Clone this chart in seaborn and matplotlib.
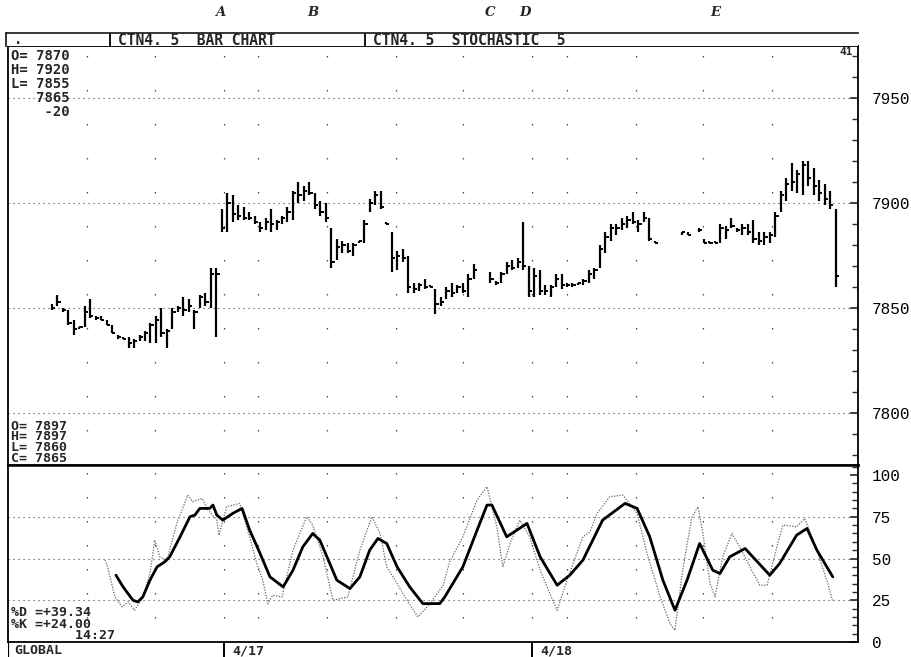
"""Recreate the CTN4.5 bar chart + stochastic terminal screen."""
import numpy as np
import matplotlib
matplotlib.use('Agg')
import matplotlib.pyplot as plt
import matplotlib.transforms as mtransforms
from matplotlib.ticker import MultipleLocator, FixedLocator
import seaborn as sns

nan = np.nan

# price bars (one per bar index)
highs = [7852, 7856, 7850, 7849, 7844, 7841, 7851, 7854, 7846, 7846,
         7844, 7842, 7837, 7836, 7836, 7835, 7837, 7839, 7843, 7846,
         7850, 7840, 7850, 7851, 7855, 7854, 7849, 7856, 7857, 7869,
         7869, 7897, 7905, 7904, 7899, 7898, 7896, 7894, 7891, 7893,
         7897, 7892, 7894, 7898, 7906, 7910, 7908, 7910, 7905, 7901,
         7900, 7888, 7883, 7882, 7881, 7881, 7882, 7892, 7902, 7906,
         7906, 7891, 7886, 7877, 7878, 7875, 7862, 7862, 7864, 7861,
         7859, 7855, 7860, 7862, 7861, 7862, 7866, 7871, nan, nan,
         7867, 7863, 7867, 7872, 7873, 7874, 7891, 7870, 7869, 7868,
         7861, 7861, 7866, 7866, 7862, 7862, 7862, 7864, 7868, 7869,
         7880, 7886, 7890, 7890, 7893, 7894, 7896, 7892, 7896, 7893,
         7882, nan, nan, nan, nan, 7886, 7886, nan, 7888, 7883,
         7882, 7882, 7890, 7889, 7893, 7888, 7890, 7890, 7892, 7886,
         7886, 7886, 7896, 7906, 7912, 7919, 7916, 7920, 7920, 7917,
         7911, 7909, 7906, 7897]
lows = [7849, 7851, 7848, 7842, 7837, 7840, 7841, 7845, 7844, 7844,
        7842, 7838, 7835, 7835, 7831, 7831, 7834, 7834, 7833, 7833,
        7836, 7831, 7840, 7848, 7846, 7848, 7840, 7850, 7851, 7850,
        7836, 7886, 7886, 7891, 7892, 7892, 7892, 7890, 7886, 7887,
        7886, 7887, 7890, 7891, 7892, 7900, 7901, 7904, 7897, 7894,
        7891, 7869, 7873, 7876, 7876, 7875, 7881, 7881, 7896, 7899,
        7897, 7890, 7867, 7868, 7872, 7857, 7857, 7858, 7859, 7860,
        7847, 7851, 7854, 7855, 7857, 7857, 7855, 7864, nan, nan,
        7862, 7861, 7862, 7866, 7868, 7869, 7868, 7855, 7855, 7856,
        7856, 7855, 7860, 7859, 7860, 7860, 7861, 7861, 7862, 7864,
        7869, 7876, 7882, 7885, 7887, 7888, 7890, 7886, 7891, 7882,
        7881, nan, nan, nan, nan, 7885, 7885, nan, 7886, 7881,
        7881, 7881, 7881, 7883, 7888, 7886, 7885, 7885, 7881, 7880,
        7880, 7881, 7884, 7896, 7901, 7906, 7905, 7904, 7908, 7904,
        7901, 7899, 7897, 7860]
closes = [7850, 7853, 7849, 7843, 7840, 7841, 7848, 7846, 7845, 7844,
          7842, 7838, 7836, 7835, 7833, 7834, 7836, 7838, 7842, 7844,
          7838, 7839, 7848, 7850, 7849, 7851, 7848, 7855, 7853, 7866,
          7866, 7888, 7900, 7895, 7894, 7893, 7893, 7891, 7888, 7891,
          7890, 7891, 7893, 7896, 7905, 7904, 7906, 7905, 7899, 7896,
          7893, 7872, 7879, 7880, 7877, 7880, 7882, 7890, 7900, 7904,
          7898, 7890, 7874, 7875, 7874, 7860, 7859, 7861, 7860, 7860,
          7852, 7853, 7858, 7857, 7860, 7858, 7864, 7868, nan, nan,
          7864, 7862, 7866, 7870, 7869, 7872, 7870, 7858, 7865, 7858,
          7858, 7860, 7864, 7861, 7861, 7861, 7862, 7863, 7866, 7868,
          7878, 7884, 7888, 7888, 7890, 7892, 7891, 7890, 7893, 7883,
          7881, nan, nan, nan, nan, 7886, 7885, nan, 7887, 7881,
          7881, 7881, 7888, 7887, 7889, 7887, 7888, 7886, 7883, 7882,
          7884, 7885, 7894, 7904, 7909, 7910, 7914, 7918, 7912, 7908,
          7905, 7902, 7899, 7865]

# stochastic %D (heavy) and %K (dotted), positions in bar units
d_bar = [11.7, 13.0, 14.8, 15.7, 16.6, 17.9, 19.2, 20.6, 21.5, 23.4,
         25.2, 26.1, 27.0, 28.8, 29.4, 30.1, 31.2, 33.0, 34.7, 36.1,
         38.0, 39.8, 42.2, 44.0, 45.8, 47.6, 48.9, 50.2, 52.0, 54.4,
         56.2, 58.0, 59.5, 61.1, 63.0, 65.3, 67.7, 70.8, 71.7, 75.0,
         77.6, 79.4, 80.3, 83.0, 86.7, 89.1, 92.2, 94.5, 96.9, 100.5,
         104.6, 106.8, 109.1, 111.5, 113.7, 115.9, 118.2, 120.6, 121.9, 123.7,
         126.5, 127.9, 131.0, 132.8, 135.9, 137.8, 139.6, 142.5]
d_val = [40, 33, 25, 24, 27, 37, 45, 48, 51, 63,
         75, 76, 80, 80, 82, 76, 73, 77, 80, 67,
         53, 39, 33, 43, 57, 65, 61, 51, 37, 32,
         39, 55, 62, 59, 45, 33, 23, 23, 27, 45,
         67, 82, 82, 63, 71, 51, 34, 40, 49, 73,
         83, 80, 63, 37, 19, 37, 59, 43, 41, 51,
         56, 51, 40, 47, 64, 68, 55, 39]
k_bar = [9.7, 10.2, 11.5, 12.8, 13.9, 15.1, 16.6, 17.9, 18.8, 19.7,
         21.0, 22.8, 24.8, 25.7, 27.4, 28.5, 30.1, 30.5, 31.9, 34.3,
         36.1, 37.4, 38.5, 39.4, 40.3, 42.0, 44.0, 46.5, 47.6, 49.5,
         51.3, 54.0, 56.2, 58.4, 59.9, 61.1, 63.0, 64.8, 66.8, 69.0,
         71.4, 72.6, 75.0, 77.6, 79.4, 81.2, 82.3, 83.6, 85.4, 87.2,
         89.1, 91.4, 92.2, 94.0, 96.9, 98.2, 99.5, 101.8, 104.2, 106.8,
         108.6, 111.0, 112.8, 113.7, 115.1, 116.8, 117.9, 118.8, 120.1, 121.0,
         122.4, 124.1, 125.5, 127.7, 129.2, 130.5, 132.3, 133.4, 135.9, 137.4,
         139.6, 141.6, 142.5]
k_val = [49, 45, 27, 21, 24, 19, 27, 41, 61, 51,
         49, 71, 88, 84, 86, 79, 73, 64, 81, 83,
         63, 47, 37, 23, 28, 27, 55, 75, 70, 51,
         25, 27, 55, 75, 65, 45, 35, 25, 15, 23,
         34, 48, 63, 85, 93, 69, 45, 59, 73, 63,
         43, 25, 19, 37, 63, 66, 77, 87, 88, 77,
         53, 27, 11, 7, 43, 75, 81, 65, 35, 27,
         51, 65, 57, 43, 34, 34, 57, 70, 69, 74,
         55, 35, 24]

hour_marks = [6.4, 18.8, 31.4, 37.6, 50.2, 62.8, 75.0, 87.6, 94.0, 106.6, 118.8, 131.4]
day_marks = [31.4, 87.6]
day_labels = ['4/17', '4/18']
price_ticks = [7800, 7850, 7900, 7950]
stoch_ticks = [0, 25, 50, 75, 100]
letter_labels = ['A', 'B', 'C', 'D', 'E']
letter_bars = [30.7, 47.6, 79.9, 86.3, 121.0]

day_info = ['O= 7870', 'H= 7920', 'L= 7855', '   7865', '    -20']
bar_info = ['O= 7897', 'H= 7897', 'L= 7860', 'C= 7865']
stoch_info = ['%D =+39.34', '%K =+24.00', '        14:27']

sns.set_style('white')
plt.rcParams['font.family'] = ['DejaVu Sans Mono', 'DejaVu Sans']
plt.rcParams['font.weight'] = 'bold'

W, H = 912, 657
fig = plt.figure(figsize=(W / 100, H / 100), dpi=100)


def fx(px):
    return px / W


def fy(py):
    return 1 - py / H


LEFT, RIGHT, TOP, MID, BOT = 8, 858, 46, 465, 642
XLIM = (-8.0, 147.1)
dot = '#444444'

ax_p = fig.add_axes([fx(LEFT), fy(MID), fx(RIGHT) - fx(LEFT), fy(TOP) - fy(MID)])
ax_s = fig.add_axes([fx(LEFT), fy(BOT), fx(RIGHT) - fx(LEFT), fy(MID) - fy(BOT)])
ax_b = fig.add_axes([fx(LEFT), 0, fx(RIGHT) - fx(LEFT), fy(BOT)])
ax_h = fig.add_axes([fx(6), fy(TOP), fx(RIGHT) - fx(6), fy(33) - fy(TOP)])

# --- price bars
x = np.arange(len(highs))
hi = np.array(highs, float)
lo = np.array(lows, float)
cl = np.array(closes, float)
ok = ~np.isnan(hi)
ax_p.vlines(x[ok], lo[ok], hi[ok], color='black', lw=1.6)
ax_p.hlines(cl[ok], x[ok], x[ok] + 0.6, color='black', lw=1.4)
ax_p.set_ylim(7775, 7975)
ax_p.set_xlim(*XLIM)
for v in price_ticks:
    ax_p.axhline(v, color=dot, lw=0.8, ls=(0, (1, 3.5)), zorder=0)
for b in hour_marks:
    ax_p.axvline(b, color=dot, lw=0.9, ls=(0, (1.2, 26)), zorder=0)

# --- stochastic
sns.lineplot(x=k_bar, y=k_val, ax=ax_s, color='#666666', lw=0.9,
             linestyle=(0, (1, 1.2)), sort=False, estimator=None)
sns.lineplot(x=d_bar, y=d_val, ax=ax_s, color='black', lw=2.0,
             sort=False, estimator=None)
ax_s.set_ylim(0, 106)
ax_s.set_xlim(*XLIM)
for v in [25, 50, 75]:
    ax_s.axhline(v, color=dot, lw=0.8, ls=(0, (1, 3.5)), zorder=0)
for b in hour_marks:
    ax_s.axvline(b, color=dot, lw=0.9, ls=(0, (1.2, 18)), zorder=0)

for ax, ticks, minor in [(ax_p, price_ticks, 10), (ax_s, stoch_ticks, 5)]:
    ax.set_xlabel('')
    ax.set_ylabel('')
    ax.set_xticks([])
    ax.yaxis.tick_right()
    ax.yaxis.set_major_locator(FixedLocator(ticks))
    ax.yaxis.set_minor_locator(MultipleLocator(minor))
    ax.tick_params(axis='y', which='major', direction='in', length=6, width=1.2,
                   pad=10, labelsize=11.5, labelcolor='black')
    ax.tick_params(axis='y', which='minor', direction='in', length=4, width=1.0)
    for lab in ax.get_yticklabels():
        lab.set_family('Liberation Mono')
        lab.set_weight('normal')
    for s in ax.spines.values():
        s.set_color('black')
        s.set_linewidth(1.3)
ax_p.spines['bottom'].set_linewidth(1.8)
ax_s.spines['top'].set_linewidth(1.8)

# --- bottom strip
ax_b.set_xlim(*XLIM)
ax_b.set_ylim(0, 1)
ax_b.axis('off')
ax_b.axvline(XLIM[0], color='black', lw=1.6)
for b, lab in zip(day_marks, day_labels):
    ax_b.axvline(b, color='black', lw=1.4)
    ax_b.text(b + 1.6, 0.4, lab, fontsize=9.5, va='center', ha='left')
ax_b.text(XLIM[0] + 1.2, 0.4, 'GLOBAL', fontsize=9.5, va='center', ha='left')

# --- header strip
ax_h.set_xlim(6, RIGHT)
ax_h.set_ylim(0, 1)
ax_h.set_xticks([])
ax_h.set_yticks([])
for side in ['right', 'bottom']:
    ax_h.spines[side].set_visible(False)
for s in ax_h.spines.values():
    s.set_linewidth(1.3)
for sep in [110, 365]:
    ax_h.axvline(sep, color='black', lw=1.3)
ax_h.text(14, 0.45, '.', fontsize=10, va='center')
ax_h.text(118, 0.45, 'CTN4. 5  BAR CHART', fontsize=10.5, va='center')
ax_h.text(373, 0.45, 'CTN4. 5  STOCHASTIC  5', fontsize=10.5, va='center')

# letters above chart, placed at their bars
trans = mtransforms.blended_transform_factory(ax_p.transData, fig.transFigure)
for b, lab in zip(letter_bars, letter_labels):
    fig.text(b, fy(13), lab, transform=trans, family='DejaVu Serif',
             style='italic', weight='bold', fontsize=9.5, ha='center', va='center')

# info text blocks (one multi-line text each)
fig.text(fx(11), fy(49), '\n'.join(day_info), fontsize=10, va='top',
         linespacing=1.0)
fig.text(fx(11), fy(420), '\n'.join(bar_info), fontsize=9.5, va='top',
         linespacing=0.75)
fig.text(fx(11), fy(606), '\n'.join(stoch_info), fontsize=9.5, va='top',
         linespacing=0.85)
fig.text(fx(853), fy(52), '41', fontsize=8, va='center', ha='right')

fig.savefig('out.png', dpi=100, facecolor='white')
